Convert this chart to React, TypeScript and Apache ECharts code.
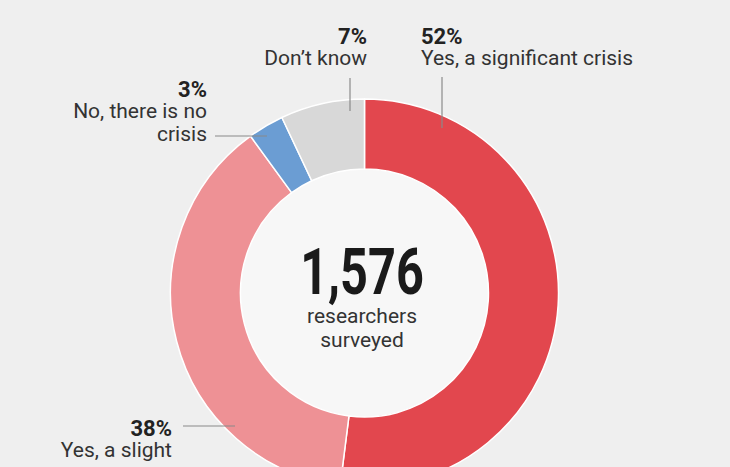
import React, { useEffect, useRef } from "react";
import * as echarts from "echarts";

const categories = ["Yes, a significant crisis", "Yes, a slight crisis", "No, there is no crisis", "Don't know"];
const values = [52, 38, 3, 7];
const colors = ["#e2474e", "#ee9195", "#6b9dd3", "#d8d8d8"];
const labelLines = [["Yes, a significant crisis"], ["Yes, a slight"], ["No, there is no", "crisis"], ["Don\u2019t know"]];
const totalSurveyed = "1,576";
const centerLines = ["researchers", "surveyed"];

export default function App() {
  const ref = useRef<HTMLDivElement>(null);
  useEffect(() => {
    document.body.style.margin = "0";
    const chart = echarts.init(ref.current!, null, { renderer: "svg" });
    const cx = 364.5, cy = 293;
    const family = "Roboto, 'Noto Sans', sans-serif";
    const pct = (i: number) => `${values[i]}%`;
    const labelSpecs = [
      { x: 421, y: 25, align: "left", leader: [[442, 77], [442, 128]] },
      { x: 172, y: 417, align: "right", leader: [[183, 426], [235, 426]] },
      { x: 207, y: 78, align: "right", leader: [[215, 136], [267, 136]] },
      { x: 367, y: 25, align: "right", leader: [[350, 78], [350, 111]] },
    ];
    const graphics: any[] = [];
    labelSpecs.forEach((s, i) => {
      const txt = [`{p|${pct(i)}}`, ...labelLines[i].map((t) => `{t|${t}}`)].join("\n");
      graphics.push({
        type: "text",
        silent: true,
        z: 100,
        style: {
          x: s.x,
          y: s.y,
          text: txt,
          align: s.align,
          verticalAlign: "top",
          rich: {
            p: { fontFamily: family, fontWeight: "bold", fontSize: 22, lineHeight: 22, fill: "#222", align: s.align },
            t: { fontFamily: family, fontSize: 21, lineHeight: 22.5, fill: "#333", align: s.align },
          },
        },
      });
      graphics.push({
        type: "line",
        silent: true,
        z: 100,
        shape: { x1: s.leader[0][0], y1: s.leader[0][1], x2: s.leader[1][0], y2: s.leader[1][1] },
        style: { stroke: "#8a8a8a", lineWidth: 1.2 },
      });
    });
    graphics.push({
      type: "text",
      silent: true,
      z: 100,
      x: 362,
      y: 272,
      scaleX: 0.76,
      style: { x: 0, y: 0, text: totalSurveyed, align: "center", verticalAlign: "middle", fill: "#1a1a1a", font: `bold 64px ${family}` },
    });
    graphics.push({
      type: "text",
      silent: true,
      z: 100,
      style: {
        x: 362,
        y: 304,
        text: centerLines.join("\n"),
        align: "center",
        verticalAlign: "top",
        fill: "#333",
        font: `21px ${family}`,
        lineHeight: 24,
      },
    });

    chart.setOption({
      animation: false,
      backgroundColor: "#efefef",
      series: [
        {
          type: "pie",
          silent: true,
          center: [cx, cy],
          radius: [0, 124],
          label: { show: false },
          itemStyle: { color: "#f7f7f7" },
          data: [{ value: 1, name: "inner" }],
          z: 1,
        },
        {
          type: "pie",
          center: [cx, cy],
          radius: [124, 194],
          startAngle: 90,
          clockwise: true,
          label: { show: false },
          labelLine: { show: false },
          itemStyle: { borderColor: "#ffffff", borderWidth: 1.5 },
          data: categories.map((c, i) => ({ name: c, value: values[i], itemStyle: { color: colors[i] } })),
          z: 2,
        },
      ],
      graphic: { elements: graphics },
    });
    return () => chart.dispose();
  }, []);
  return <div ref={ref} style={{ width: 730, height: 467 }} />;
}
